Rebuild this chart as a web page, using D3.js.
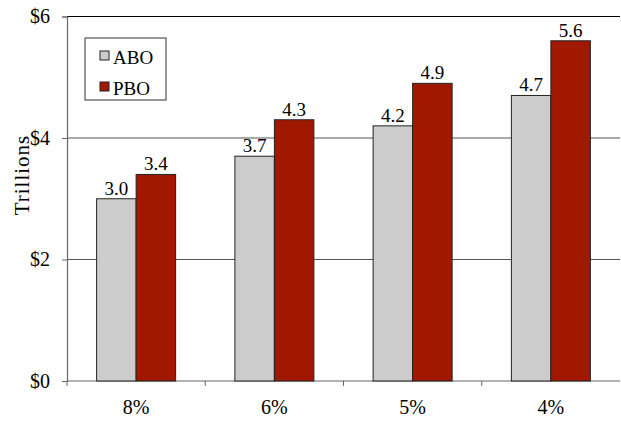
<!DOCTYPE html>
<html>
<head>
<meta charset="utf-8">
<script src="https://cdn.jsdelivr.net/npm/d3@7"></script>
<style>
  body { margin: 0; background: #fff; }
  text { font-family: "Liberation Serif", "DejaVu Serif", serif; fill: #000; }
</style>
</head>
<body>
<div id="chart"></div>
<script>
// data
var categories = ['8%', '6%', '5%', '4%'];
var seriesNames = ['ABO', 'PBO'];
var abo = [3.0, 3.7, 4.2, 4.7];
var pbo = [3.4, 4.3, 4.9, 5.6];
var yTicks = [0, 2, 4, 6];
var colors = { ABO: '#cccccc', PBO: '#a11800' };

var width = 621, height = 423;
// plot area edges (top is reserved on window, so use a box object)
var plot = { x0: 67, x1: 620, y0: 16.5, y1: 381 };

var svg = d3.select('#chart').append('svg')
  .attr('width', width)
  .attr('height', height);

var y = d3.scaleLinear().domain([0, 6]).range([plot.y1, plot.y0]);
var xCat = d3.scaleBand().domain(categories).range([plot.x0, plot.x1]);
var xSer = d3.scaleBand().domain(seriesNames).range([0, xCat.bandwidth()])
  .paddingInner(0).paddingOuter(0.75);

// gridlines
svg.append('g').selectAll('line')
  .data(yTicks.filter(d => d > 0))
  .enter().append('line')
  .attr('x1', plot.x0).attr('x2', plot.x1)
  .attr('y1', d => y(d)).attr('y2', d => y(d))
  .attr('stroke', d => d === 6 ? '#000' : '#555')
  .attr('stroke-width', 1.2);

// y axis
var yAxis = svg.append('g')
  .attr('transform', 'translate(' + plot.x0 + ',0)')
  .call(d3.axisLeft(y).tickValues(yTicks).tickSize(5).tickPadding(12).tickFormat(d => '$' + d));
yAxis.select('.domain').attr('stroke', '#666').attr('stroke-width', 1.2);
yAxis.selectAll('.tick line').attr('stroke', '#666');
yAxis.selectAll('text').style('font-size', '20px')
  .style('font-family', '"Liberation Serif", serif').attr('fill', '#000');

// x axis, ticks at category boundaries
var xAxis = svg.append('g').attr('transform', 'translate(0,' + plot.y1 + ')');
xAxis.append('line').attr('x1', plot.x0).attr('x2', plot.x1)
  .attr('stroke', '#666').attr('stroke-width', 1.2);
xAxis.selectAll('.bt').data(categories).enter().append('line')
  .attr('class', 'bt')
  .attr('x1', d => xCat(d)).attr('x2', d => xCat(d))
  .attr('y1', 0).attr('y2', 5)
  .attr('stroke', '#666');
xAxis.selectAll('text').data(categories).enter().append('text')
  .attr('x', d => xCat(d) + xCat.bandwidth() / 2)
  .attr('y', 33)
  .attr('text-anchor', 'middle')
  .style('font-size', '20px')
  .text(d => d);

// bars
var rows = categories.map((c, i) => ({ cat: c, vals: [
  { s: 'ABO', v: abo[i] }, { s: 'PBO', v: pbo[i] }] }));

var groups = svg.selectAll('.grp').data(rows).enter().append('g')
  .attr('class', 'grp')
  .attr('transform', d => 'translate(' + xCat(d.cat) + ',0)');

groups.selectAll('rect').data(d => d.vals).enter().append('rect')
  .attr('x', d => xSer(d.s))
  .attr('y', d => y(d.v))
  .attr('width', xSer.bandwidth())
  .attr('height', d => plot.y1 - y(d.v))
  .attr('fill', d => colors[d.s])
  .attr('stroke', '#222')
  .attr('stroke-width', 1);

groups.selectAll('.lbl').data(d => d.vals).enter().append('text')
  .attr('class', 'lbl')
  .attr('x', d => xSer(d.s) + xSer.bandwidth() / 2)
  .attr('y', d => y(d.v) - 4)
  .attr('text-anchor', 'middle')
  .style('font-size', '19px')
  .text(d => d3.format('.1f')(d.v));

// y title
svg.append('text')
  .attr('transform', 'translate(29,175) rotate(-90)')
  .attr('text-anchor', 'middle')
  .style('font-size', '21px')
  .style('letter-spacing', '1px')
  .text('Trillions');

// legend
var lg = svg.append('g');
lg.append('rect')
  .attr('x', 85).attr('y', 38).attr('width', 81).attr('height', 62)
  .attr('fill', '#fff').attr('stroke', '#333').attr('stroke-width', 1);
var items = lg.selectAll('.li').data(seriesNames).enter().append('g')
  .attr('class', 'li')
  .attr('transform', (d, i) => 'translate(100,' + (51 + i * 31) + ')');
items.append('rect')
  .attr('width', 9).attr('height', 9)
  .attr('fill', d => colors[d]).attr('stroke', '#222');
items.append('text')
  .attr('x', 13).attr('y', 13)
  .style('font-size', '19px')
  .text(d => d);
</script>
</body>
</html>
